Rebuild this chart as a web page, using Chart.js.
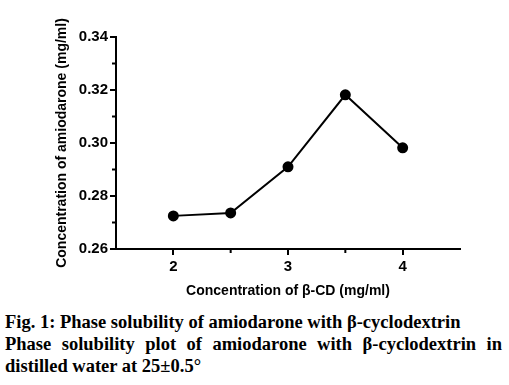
<!DOCTYPE html>
<html><head><meta charset="utf-8">
<script src="https://cdn.jsdelivr.net/npm/chart.js@4/dist/chart.umd.min.js"></script>
<style>
html,body{margin:0;padding:0;background:#fff;width:509px;height:385px;overflow:hidden;}
#wrap{position:absolute;left:0;top:0;width:509px;height:305px;}
#cap{position:absolute;left:5px;top:311px;width:497px;font-family:"Liberation Serif","Times New Roman",serif;font-weight:bold;font-size:18.5px;line-height:22px;color:#000;white-space:nowrap;}
#cap .j{text-align:justify;text-align-last:justify;white-space:normal;}
</style></head><body>
<div id="wrap"><canvas id="c" width="509" height="305"></canvas></div>
<div id="cap"><div>Fig. 1: Phase solubility of amiodarone with β-cyclodextrin</div>
<div class="j">Phase solubility plot of amiodarone with β-cyclodextrin in</div>
<div>distilled water at 25±0.5°</div></div>
<script>
const xValues = [2, 2.5, 3, 3.5, 4];
const yValues = [0.2725, 0.2736, 0.2910, 0.3182, 0.2982];
const xTicks = [2, 2.5, 3, 3.5, 4];
const xLabels = [2, 3, 4];
const yTicks = [0.26, 0.27, 0.28, 0.29, 0.30, 0.31, 0.32, 0.33, 0.34];
const yLabels = [0.26, 0.28, 0.30, 0.32, 0.34];

const isLabel = (arr, v) => arr.some(a => Math.abs(a - v) < 1e-6);

const minorTicks = {
  id: 'minorTicks',
  afterDraw(chart) {
    const ctx = chart.ctx;
    const xs = chart.scales.x, ys = chart.scales.y;
    ctx.save();
    ctx.strokeStyle = '#000';
    ctx.lineWidth = 2;
    yTicks.filter(v => !isLabel(yLabels, v)).forEach(v => {
      const p = ys.getPixelForValue(v);
      ctx.beginPath(); ctx.moveTo(xs.left - 4, p); ctx.lineTo(xs.left, p); ctx.stroke();
    });
    xTicks.filter(v => !isLabel(xLabels, v)).forEach(v => {
      const p = xs.getPixelForValue(v);
      ctx.beginPath(); ctx.moveTo(p, ys.bottom); ctx.lineTo(p, ys.bottom + 4); ctx.stroke();
    });
    ctx.restore();
  }
};

new Chart(document.getElementById('c'), {
  type: 'scatter',
  data: {
    datasets: [{
      data: xValues.map((x, i) => ({x: x, y: yValues[i]})),
      showLine: true,
      borderColor: '#000',
      backgroundColor: '#000',
      borderWidth: 2,
      pointRadius: 4.5,
      pointHoverRadius: 4.5
    }]
  },
  options: {
    responsive: false,
    animation: false,
    events: [],
    layout: {padding: {top: 37, right: 49, left: 0, bottom: 5}},
    plugins: {legend: {display: false}, tooltip: {enabled: false}},
    scales: {
      x: {
        type: 'linear', min: 1.5, max: 4.5,
        afterBuildTicks: s => { s.ticks = xTicks.map(v => ({value: v})); },
        afterFit: s => { s.height = 51; },
        border: {color: '#000', width: 2},
        grid: {drawOnChartArea: false, tickLength: 6, lineWidth: 2,
               tickColor: c => (c.tick && isLabel(xLabels, c.tick.value)) ? '#000' : 'rgba(0,0,0,0)'},
        ticks: {color: '#000', padding: 3, maxRotation: 0, autoSkip: false,
                font: {family: 'Liberation Sans, Arial, sans-serif', weight: 'bold', size: 15},
                callback: v => isLabel(xLabels, v) ? String(v) : ''},
        title: {display: true, text: 'Concentration of β-CD (mg/ml)', color: '#000',
                font: {family: 'Liberation Sans, Arial, sans-serif', weight: 'bold', size: 14},
                padding: {top: 0, bottom: 0}}
      },
      y: {
        type: 'linear', min: 0.26, max: 0.34,
        afterBuildTicks: s => { s.ticks = yTicks.map(v => ({value: v})); },
        afterFit: s => { s.width = 116; },
        border: {color: '#000', width: 2},
        grid: {drawOnChartArea: false, tickLength: 6, lineWidth: 2,
               tickColor: c => (c.tick && isLabel(yLabels, c.tick.value)) ? '#000' : 'rgba(0,0,0,0)'},
        ticks: {color: '#000', padding: 2, autoSkip: false,
                font: {family: 'Liberation Sans, Arial, sans-serif', weight: 'bold', size: 15},
                callback: v => isLabel(yLabels, v) ? v.toFixed(2) : ''},
        title: {display: true, text: 'Concentration of amiodarone (mg/ml)', color: '#000',
                font: {family: 'Liberation Sans, Arial, sans-serif', weight: 'bold', size: 14},
                padding: {top: 54, bottom: 0}}
      }
    }
  },
  plugins: [minorTicks]
});
</script>
</body></html>
